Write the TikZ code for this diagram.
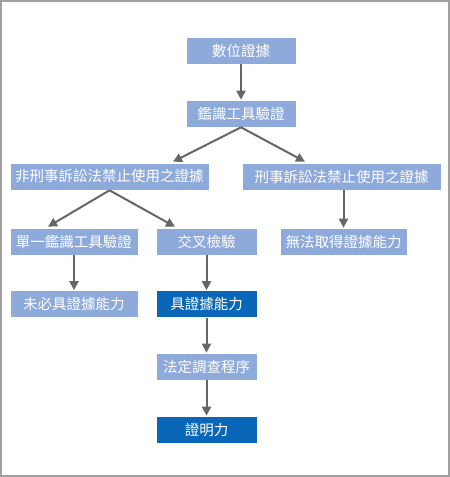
\documentclass[tikz,border=0pt]{standalone}
\usepackage{fontspec}
\newfontfamily\cjk{Noto Sans CJK TC}
\usetikzlibrary{arrows.meta}
\definecolor{lightbox}{HTML}{8EAADB}
\definecolor{darkbox}{HTML}{0A66B8}
\definecolor{arrowgray}{HTML}{666666}
\definecolor{framegray}{HTML}{A0A0A0}
\begin{document}
\begin{tikzpicture}[x=1pt,y=-1pt,
    box/.style={fill=lightbox,draw=white,line width=0.6pt,text=white,inner sep=0pt,
      minimum height=27pt,font=\cjk\fontsize{14.5}{16}\selectfont},
    dbox/.style={box,fill=darkbox},
    arr/.style={draw=arrowgray,line width=2pt,-{Triangle[length=9pt,width=9pt]}}]
    \useasboundingbox (0,0) rectangle (450,477);
    \draw[framegray,line width=1.2pt] (1,1) rectangle (449,476);
    \node[box,minimum width=110pt] (A0_0) at (241,50.5) {數位證據};
    \node[box,minimum width=110pt] (A1_0) at (241,113.5) {鑑識工具驗證};
    \node[box,minimum width=199pt] (A2_0) at (109.5,176.5) {非刑事訴訟法禁止使用之證據};
    \node[box,minimum width=199pt] (A2_1) at (341.5,176.5) {刑事訴訟法禁止使用之證據};
    \node[box,minimum width=128pt] (A3_0) at (74,241.5) {單一鑑識工具驗證};
    \node[box,minimum width=101pt] (A3_1) at (206.5,241.5) {交叉檢驗};
    \node[box,minimum width=127pt] (A3_2) at (343.5,241.5) {無法取得證據能力};
    \node[box,minimum width=128pt] (A4_0) at (74,304) {未必具證據能力};
    \node[dbox,minimum width=101pt] (A4_1) at (206.5,304) {具證據能力};
    \node[box,minimum width=101pt] (A5_1) at (206.5,366.5) {法定調查程序};
    \node[dbox,minimum width=101pt] (A6_1) at (206.5,429.5) {證明力};
    \path (A0_0) edge [arr] (A1_0);
    \path (A1_0.south) edge [arr] ([xshift=63.5pt,yshift=1pt]A2_0.north);
    \path (A1_0.south) edge [arr] ([xshift=-36.5pt,yshift=1pt]A2_1.north);
    \path (A2_0.south) edge [arr] ([xshift=-26pt,yshift=1pt]A3_0.north);
    \path (A2_0.south) edge [arr] ([xshift=-31.5pt,yshift=1pt]A3_1.north);
    \path (A2_1.south -| A3_2.north) edge [arr] (A3_2.north);
    \path (A3_0) edge [arr] (A4_0);
    \path (A3_1) edge [arr] (A4_1);
    \path (A4_1) edge [arr] (A5_1);
    \path (A5_1) edge [arr] (A6_1);
  \end{tikzpicture}
\end{document}
